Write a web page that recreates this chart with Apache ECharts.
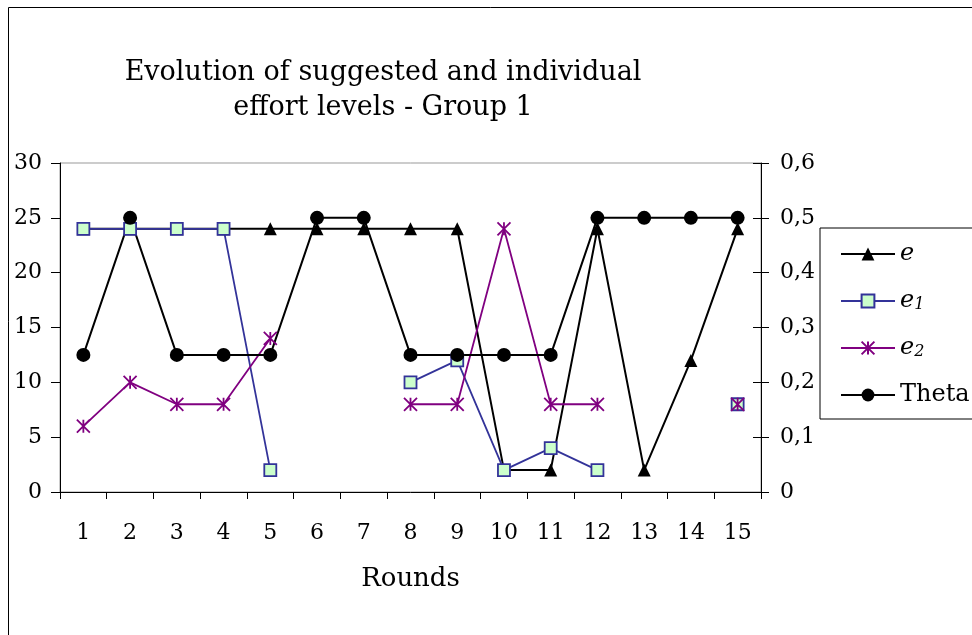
<!DOCTYPE html>
<html>
<head>
<meta charset="utf-8">
<script src="https://cdn.jsdelivr.net/npm/echarts@6/dist/echarts.min.js"></script>
<style>html,body{margin:0;padding:0;background:#fff}#c{width:972px;height:635px}</style>
</head>
<body>
<div id="c"></div>
<script>
const rounds = ['1','2','3','4','5','6','7','8','9','10','11','12','13','14','15'];
const eValues = [24, 24, 24, 24, 24, 24, 24, 24, 24, 2, 2, 24, 2, 12, 24];
const e1Values = [24, 24, 24, 24, 2, null, null, 10, 12, 2, 4, 2, null, null, 8];
const e2Values = [6, 10, 8, 8, 14, null, null, 8, 8, 24, 8, 8, null, null, 8];
const thetaValues = [0.25, 0.5, 0.25, 0.25, 0.25, 0.5, 0.5, 0.25, 0.25, 0.25, 0.25, 0.5, 0.5, 0.5, 0.5];
const leftTicks = [0, 5, 10, 15, 20, 25, 30];
const rightTicks = [0, 0.1, 0.2, 0.3, 0.4, 0.5, 0.6];

const FONT = 'DejaVu Serif';
const asterisk = 'path://M0,0L10,10M10,0L0,10M5,0L5,10';

const chart = echarts.init(document.getElementById('c'));
chart.setOption({
  backgroundColor: '#fff',
  animation: false,
  title: {
    text: 'Evolution of suggested and individual\neffort levels - Group 1',
    left: 378,
    top: 50,
    textAlign: 'center',
    textStyle: { fontFamily: FONT, fontSize: 27, fontWeight: 'normal', color: '#000', lineHeight: 35 }
  },
  graphic: [{
    type: 'rect', silent: true,
    shape: { x: 8.5, y: 7.5, width: 1000, height: 700 },
    style: { fill: 'none', stroke: '#000', lineWidth: 1 }
  }],
  legend: {
    orient: 'vertical',
    left: 820, top: 228,
    padding: [14, 60, 12, 20],
    itemWidth: 54, itemHeight: 16, itemGap: 23,
    borderColor: '#000', borderWidth: 1,
    textStyle: { fontFamily: FONT, fontSize: 24, color: '#000',
      rich: {
        it: { fontFamily: FONT, fontSize: 24, fontStyle: 'italic', color: '#000' },
        sub: { fontFamily: FONT, fontSize: 16, fontStyle: 'italic', color: '#000', verticalAlign: 'bottom', padding: [8, 0, 0, 0] }
      }
    },
    formatter: function (n) {
      if (n === 'e') return '{it|e}';
      if (n === 'e1') return '{it|e}{sub|1}';
      if (n === 'e2') return '{it|e}{sub|2}';
      return n;
    },
    data: ['e', 'e1', 'e2', 'Theta']
  },
  grid: { left: 60, right: 211, top: 163, bottom: 143, show: true, borderColor: '#999', borderWidth: 1 },
  xAxis: {
    type: 'category', data: rounds, boundaryGap: true,
    name: 'Rounds', nameLocation: 'middle', nameGap: 74,
    nameTextStyle: { fontFamily: FONT, fontSize: 26, color: '#000' },
    axisLine: { lineStyle: { color: '#000', width: 1 } },
    axisTick: { show: true, length: 7, lineStyle: { color: '#000' } },
    axisLabel: { fontFamily: FONT, fontSize: 22, color: '#000', margin: 30 },
    splitLine: { show: false }
  },
  yAxis: [{
    type: 'value', min: 0, max: 30, interval: 5, position: 'left',
    axisLine: { show: true, lineStyle: { color: '#000' } },
    axisTick: { show: true, length: 9, lineStyle: { color: '#000' } },
    axisLabel: { fontFamily: FONT, fontSize: 22, color: '#000', margin: 18 },
    splitLine: { show: false }
  }, {
    type: 'value', min: 0, max: 0.6, interval: 0.1, position: 'right',
    axisLine: { show: true, lineStyle: { color: '#000' } },
    axisTick: { show: true, length: 8, lineStyle: { color: '#000' } },
    axisLabel: { fontFamily: FONT, fontSize: 22, color: '#000', margin: 19,
      formatter: function (v) { return v === 0 ? '0' : v.toFixed(1).replace('.', ','); } },
    splitLine: { show: false }
  }, {
    type: 'value', min: 0, max: 0.6, interval: 0.1, position: 'right',
    axisLine: { show: false },
    axisTick: { show: true, inside: true, length: 8, lineStyle: { color: '#000' } },
    axisLabel: { show: false },
    splitLine: { show: false }
  }],
  series: [{
    name: 'e', type: 'line', yAxisIndex: 0, data: eValues,
    symbol: 'triangle', symbolSize: 13,
    lineStyle: { color: '#000', width: 2 },
    itemStyle: { color: '#000' }
  }, {
    name: 'e1', type: 'line', yAxisIndex: 0, data: e1Values, connectNulls: false,
    symbol: 'rect', symbolSize: 12, showAllSymbol: true,
    lineStyle: { color: '#333399', width: 1.8 },
    itemStyle: { color: '#CCFFCC', borderColor: '#333399', borderWidth: 1.8 }
  }, {
    name: 'e2', type: 'line', yAxisIndex: 0, data: e2Values, connectNulls: false,
    symbol: asterisk, symbolSize: 13, showAllSymbol: true,
    lineStyle: { color: '#800080', width: 1.8 },
    itemStyle: { color: '#800080', borderColor: '#800080', borderWidth: 1.8 }
  }, {
    name: 'Theta', type: 'line', yAxisIndex: 1, data: thetaValues,
    symbol: 'circle', symbolSize: 14,
    lineStyle: { color: '#000', width: 2 },
    itemStyle: { color: '#000' }
  }]
});
</script>
</body>
</html>
